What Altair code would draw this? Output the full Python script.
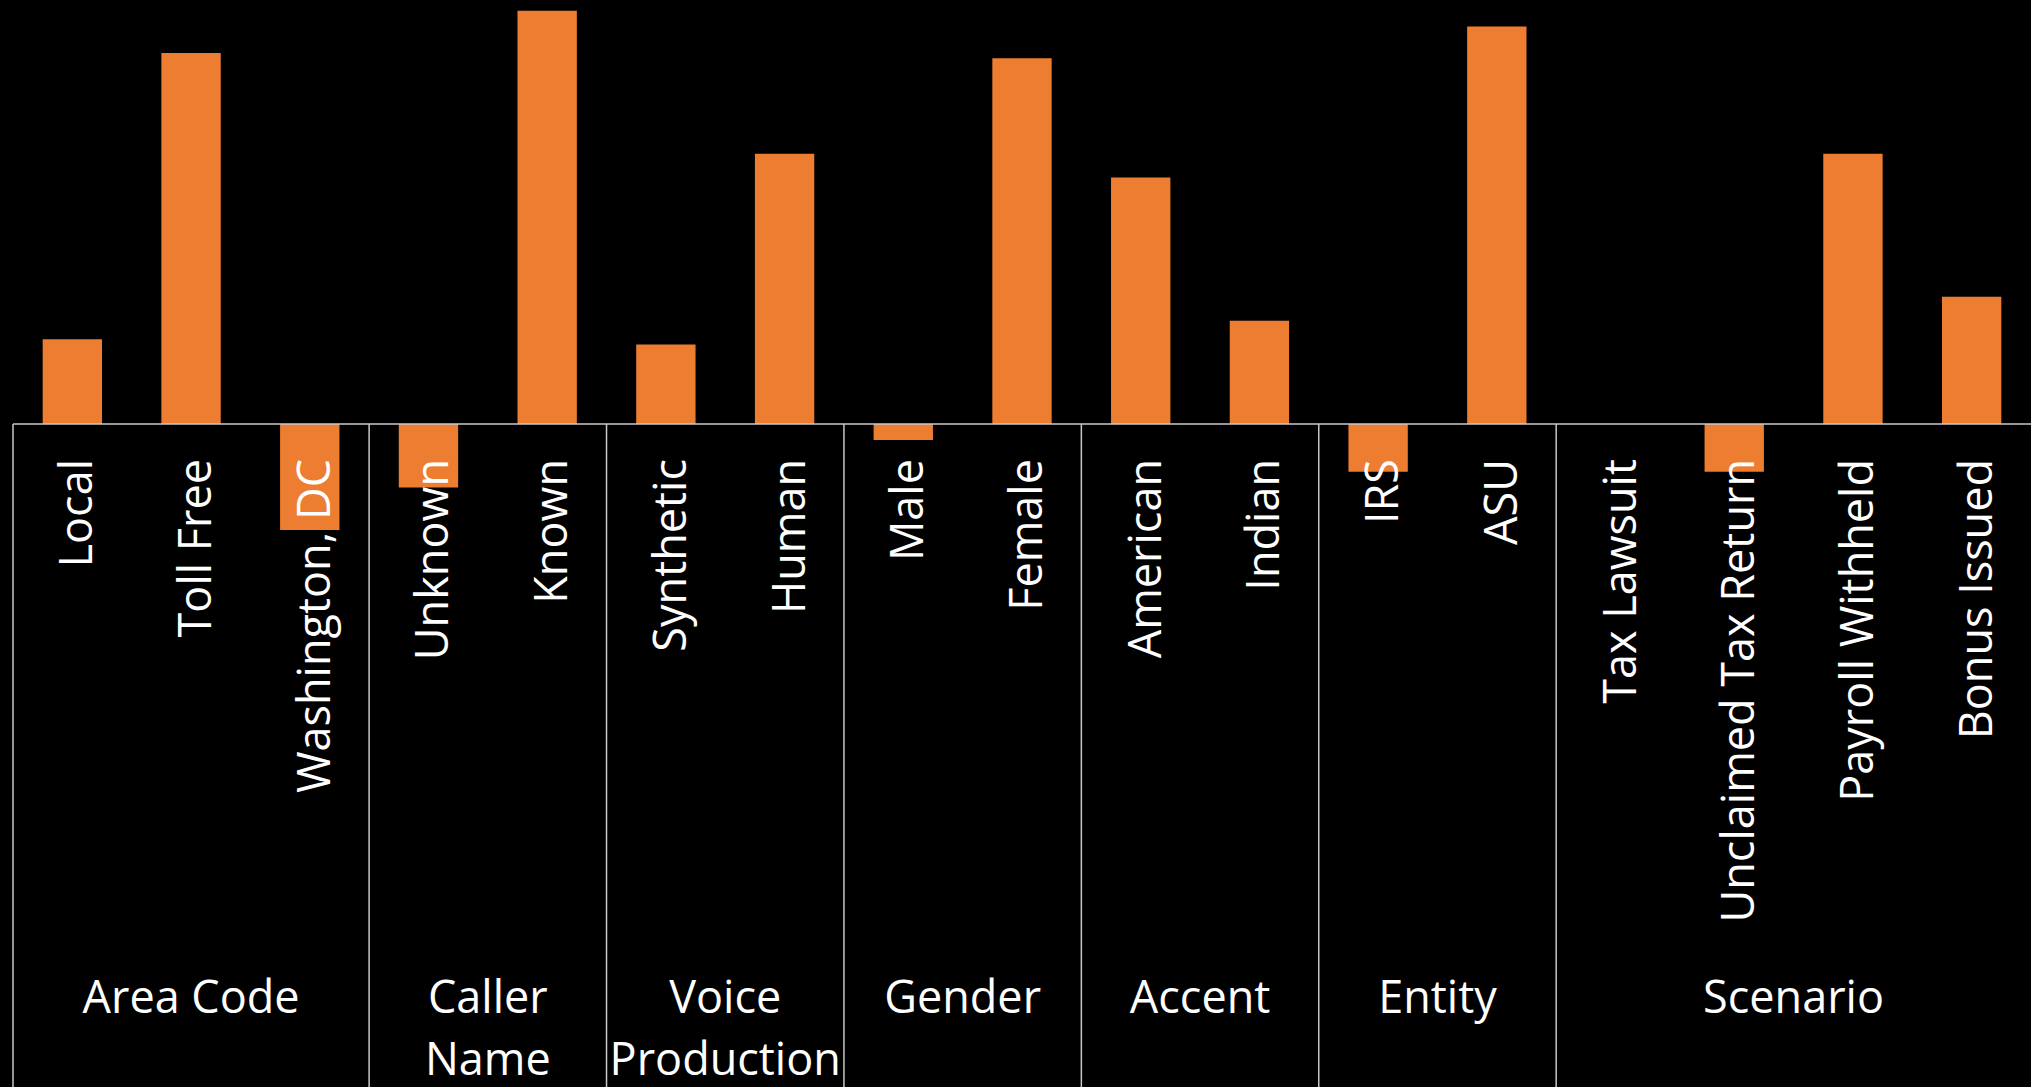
import altair as alt
import pandas as pd

# ---- data ----
groups = ["Area Code", "Caller\nName", "Voice\nProduction", "Gender", "Accent", "Entity", "Scenario"]
group_sizes = [3, 2, 2, 2, 2, 2, 4]
categories = ["Local", "Toll Free", "Washington, DC",
              "Unknown", "Known",
              "Synthetic", "Human",
              "Male", "Female",
              "American", "Indian",
              "IRS", "ASU",
              "Tax Lawsuit", "Unclaimed Tax Return", "Payroll Withheld", "Bonus Issued"]
values = [5.33, 23.33, -6.67,
          -4.0, 26.0,
          5.0, 17.0,
          -1.0, 23.0,
          15.5, 6.5,
          -3.0, 25.0,
          0.0, -3.0, 17.0, 8.0]

# ---- tables built from the lists ----
cat_group = []
for g, n in zip(groups, group_sizes):
    cat_group += [g] * n
items = pd.DataFrame({"cat": categories, "value": values, "group": cat_group})

odd_rows, even_rows, sep_rows = [], [], []
start = 0
for gi, (g, n) in enumerate(zip(groups, group_sizes)):
    members = categories[start:start + n]
    if n % 2 == 1:
        odd_rows.append({"anchor": members[n // 2], "label": g})
    else:
        even_rows.append({"anchor": members[n // 2 - 1], "label": g})
    if gi < len(groups) - 1:
        sep_rows.append({"anchor": members[-1]})
    start += n
odd_df = pd.DataFrame(odd_rows)
even_df = pd.DataFrame(even_rows)
sep_df = pd.DataFrame(sep_rows)
first_df = pd.DataFrame({"anchor": [categories[0]]})

W, H = 2018, 424
FONT = "Open Sans"
FS = 45
LINE = "#c8c8c8"

xscale = alt.Scale(domain=categories, paddingInner=0, paddingOuter=0)
yscale = alt.Scale(domain=[0, 26.67], nice=False)

bars = alt.Chart(items).mark_bar(color="#ED7D31", width=alt.RelativeBandSize(0.5)).encode(
    x=alt.X("cat:N", scale=xscale, axis=None),
    y=alt.Y("value:Q", scale=yscale, axis=None),
    y2=alt.datum(0),
)

baseline = alt.Chart(first_df).mark_rule(color=LINE, strokeWidth=1.6).encode(
    y=alt.datum(0), x=alt.value(0), x2=alt.value(W)
)

seps = alt.Chart(sep_df).mark_rule(color=LINE, strokeWidth=1.5).encode(
    x=alt.X("anchor:N", scale=xscale, axis=None, bandPosition=1),
    y=alt.value(H), y2=alt.value(1087),
)
left_edge = alt.Chart(first_df).mark_rule(color=LINE, strokeWidth=1.5).encode(
    x=alt.X("anchor:N", scale=xscale, axis=None, bandPosition=0),
    y=alt.value(H), y2=alt.value(1087),
)

item_labels = alt.Chart(items).mark_text(
    angle=270, align="right", baseline="alphabetic", dy=20,
    font=FONT, fontSize=FS, color="white"
).encode(
    x=alt.X("cat:N", scale=xscale, axis=None),
    y=alt.value(459),
    text="cat:N",
)

glabel_kw = dict(align="center", baseline="alphabetic", font=FONT, fontSize=FS,
                 color="white", lineBreak="\n", lineHeight=62)
odd_labels = alt.Chart(odd_df).mark_text(**glabel_kw).encode(
    x=alt.X("anchor:N", scale=xscale, axis=None, bandPosition=0.5),
    y=alt.value(1013),
    text="label:N",
)
even_labels = alt.Chart(even_df).mark_text(**glabel_kw).encode(
    x=alt.X("anchor:N", scale=xscale, axis=None, bandPosition=1),
    y=alt.value(1013),
    text="label:N",
)

chart = alt.layer(
    bars, seps, left_edge, baseline, item_labels, odd_labels, even_labels
).properties(
    width=W, height=H, background="black",
    padding={"left": 13, "top": 0, "right": 0, "bottom": 663},
    autosize=alt.AutoSizeParams(type="none"),
).configure_view(stroke=None)

chart.save("out.html", embed_options={"renderer": "svg", "actions": False})
